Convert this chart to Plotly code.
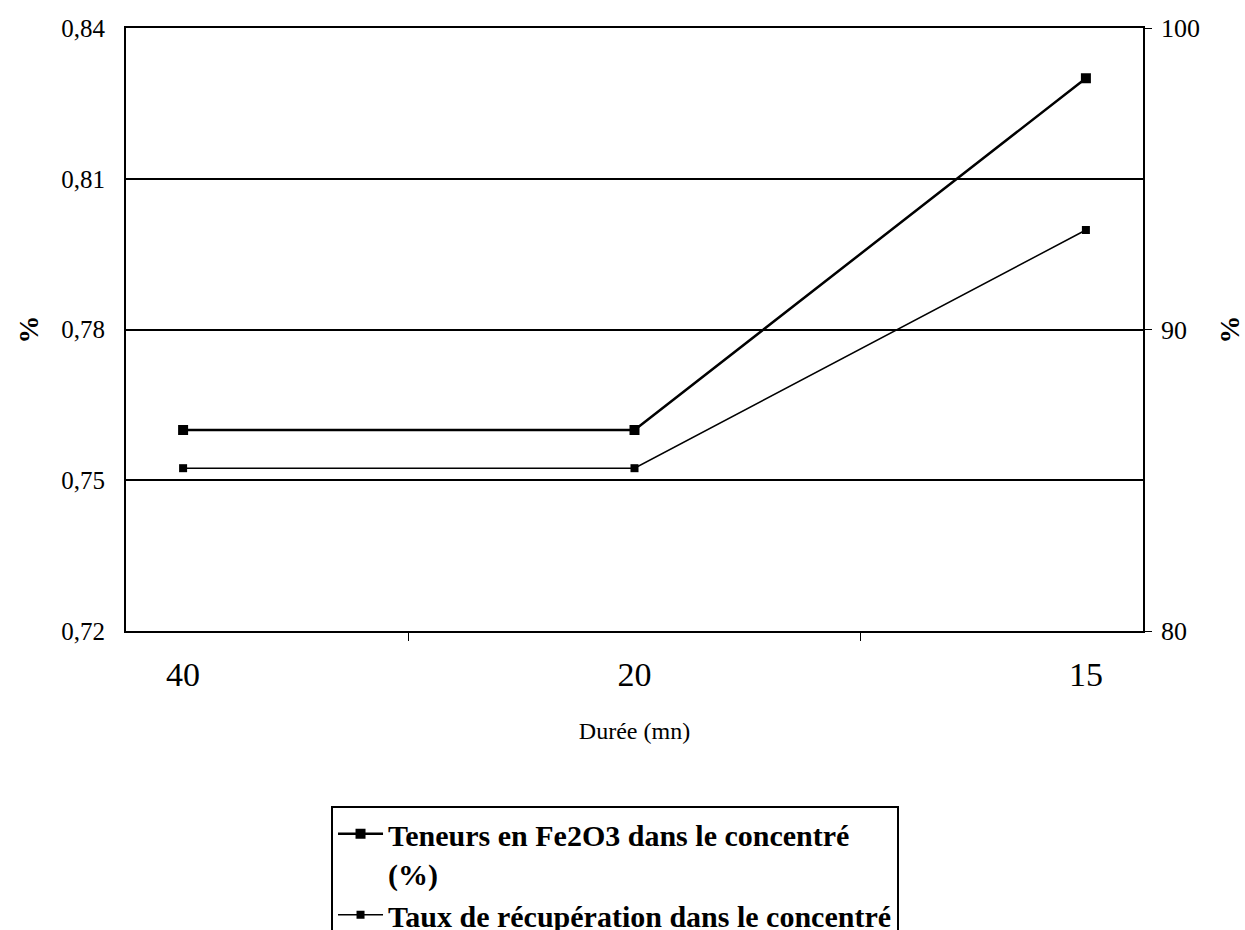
import plotly.graph_objects as go

# durées (mn)
durees = ["40", "20", "15"]
teneurs_fe2o3 = [0.760, 0.760, 0.830]     # axe gauche
taux_recup = [85.4, 85.4, 93.3]           # axe droit

left_ticks = [0.72, 0.75, 0.78, 0.81, 0.84]
right_ticks = [80, 90, 100]

serif = "Liberation Serif"

fig = go.Figure()
fig.add_trace(go.Scatter(
    x=durees, y=teneurs_fe2o3, mode="lines+markers",
    name="<b>Teneurs en Fe2O3 dans le concentré<br>(%)</b>",
    line=dict(color="black", width=2.5),
    marker=dict(symbol="square", size=10, color="black"),
))
fig.add_trace(go.Scatter(
    x=durees, y=taux_recup, mode="lines+markers", yaxis="y2",
    name="<b>Taux de récupération dans le concentré<br>(%)</b>",
    line=dict(color="black", width=1.5),
    marker=dict(symbol="square", size=8, color="black"),
))

fig.update_layout(
    width=1245, height=930,
    paper_bgcolor="white", plot_bgcolor="white",
    separators=",.",
    margin=dict(l=126, r=102, t=28, b=299, autoexpand=False),
    font=dict(family=serif, color="black"),
    showlegend=True,
    legend=dict(
        x=0.2016, y=-0.290, xanchor="left", yanchor="top", valign="top",
        bordercolor="black", borderwidth=2, bgcolor="white",
        font=dict(family=serif, size=30, color="black"),
        tracegroupgap=0, itemwidth=45,
    ),
    xaxis=dict(
        type="category", showline=True, linecolor="black", linewidth=2,
        mirror=True, ticks="outside", tickson="boundaries", ticklen=8,
        tickcolor="black", tickwidth=1, showgrid=False,
        tickfont=dict(size=34), ticklabelstandoff=12,
        title=dict(text="Durée (mn)", font=dict(size=24), standoff=30),
    ),
    yaxis=dict(
        range=[0.72, 0.84], tickvals=left_ticks, tickformat=".2f",
        showline=True, linecolor="black", linewidth=2, ticks="",
        showgrid=True, gridcolor="black", gridwidth=2,
        tickfont=dict(size=25), zeroline=False, ticklabelstandoff=14,
        title=dict(text="<b>%</b>", font=dict(size=28), standoff=14),
    ),
    yaxis2=dict(
        range=[80, 100], tickvals=right_ticks, overlaying="y", side="right",
        showline=True, linecolor="black", linewidth=1.5, showgrid=False,
        ticks="outside", ticklen=7, tickcolor="black", tickwidth=1,
        tickfont=dict(size=26), zeroline=False, ticklabelstandoff=4,
        title=dict(text="<b>%</b>", font=dict(size=28), standoff=35),
    ),
)

fig.write_html("out.html", config={"displayModeBar": False},
               post_script="document.body.style.margin='0';")
